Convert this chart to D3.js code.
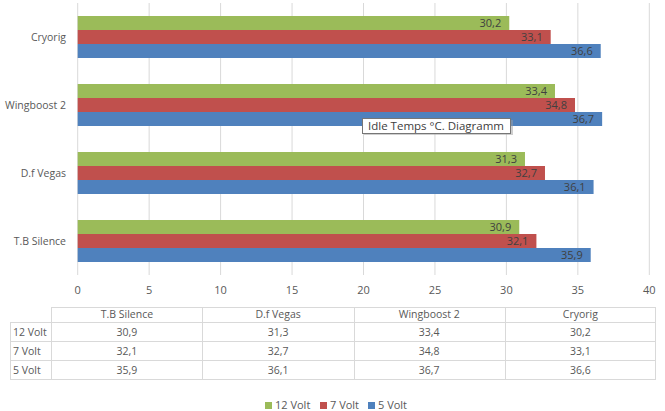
<!DOCTYPE html>
<html>
<head>
<meta charset="utf-8">
<script src="https://cdn.jsdelivr.net/npm/d3@7"></script>
<style>
  body { margin: 0; background: #fff; }
  text { font-family: "Open Sans", "Noto Sans", sans-serif; }
</style>
</head>
<body>
<div id="chart"></div>
<script>
// chart values
var categories = ['T.B Silence', 'D.f Vegas', 'Wingboost 2', 'Cryorig']
var seriesNames = ['12 Volt', '7 Volt', '5 Volt']
var volt12 = [30.9, 31.3, 33.4, 30.2]
var volt7 = [32.1, 32.7, 34.8, 33.1]
var volt5 = [35.9, 36.1, 36.7, 36.6]
var xTicks = [0, 5, 10, 15, 20, 25, 30, 35, 40]
var tooltipText = 'Idle Temps °C. Diagramm'

var colors = ['#9BBB59', '#C0504D', '#4F81BD']
var series = [volt12, volt7, volt5]
var fmt = function(v) { return String(v).replace('.', ',') }

var width = 665, height = 411
var svg = d3.select('#chart').append('svg')
  .attr('width', width)
  .attr('height', height)

var x = d3.scaleLinear().domain([0, 40]).range([77.7, 649.3])

// top of chart = last category
var y = d3.scaleBand()
  .domain(categories.slice().reverse())
  .range([3, 275])
  .paddingInner(26 / 68)
  .paddingOuter(13 / 68)

var y1 = d3.scaleBand().domain(seriesNames).range([0, y.bandwidth()])

// gridlines
svg.append('g').selectAll('line')
  .data(xTicks)
  .enter().append('line')
  .attr('x1', d => x(d)).attr('x2', d => x(d))
  .attr('y1', 3).attr('y2', 275)
  .attr('stroke', '#D9D9D9')
  .attr('stroke-width', 1)

// x tick labels
svg.append('g').selectAll('text')
  .data(xTicks)
  .enter().append('text')
  .attr('x', d => x(d))
  .attr('y', 294)
  .attr('text-anchor', 'middle')
  .attr('font-size', 11)
  .attr('fill', '#595959')
  .text(d => d)

// category labels
svg.append('g').selectAll('text')
  .data(categories)
  .enter().append('text')
  .attr('x', 66)
  .attr('y', d => y(d) + y.bandwidth() / 2 + 4)
  .attr('text-anchor', 'end')
  .attr('font-size', 10.5)
  .attr('fill', '#595959')
  .text(d => d)

// bars
series.forEach(function(vals, si) {
  var g = svg.append('g')
  g.selectAll('rect')
    .data(vals)
    .enter().append('rect')
    .attr('x', x(0))
    .attr('y', (d, i) => y(categories[i]) + y1(seriesNames[si]))
    .attr('width', d => x(d) - x(0))
    .attr('height', y1.bandwidth())
    .attr('fill', colors[si])

  g.selectAll('text')
    .data(vals)
    .enter().append('text')
    .attr('x', d => x(d) - 8)
    .attr('y', (d, i) => y(categories[i]) + y1(seriesNames[si]) + y1.bandwidth() / 2 + 4)
    .attr('text-anchor', 'end')
    .attr('font-size', 11)
    .attr('fill', '#404040')
    .text(d => fmt(d))
})

// data table
var tbl = svg.append('g')
var colX = d3.scaleBand().domain(categories).range([51.3, 656])
var rowTops = [307, 322, 341, 360, 379]
var lineCol = '#D9D9D9'

// header row
tbl.append('line').attr('x1', 51.3).attr('x2', 656).attr('y1', rowTops[0] + 0.5).attr('y2', rowTops[0] + 0.5).attr('stroke', lineCol)
rowTops.slice(1).forEach(function(t) {
  tbl.append('line').attr('x1', 10).attr('x2', 656).attr('y1', t + 0.5).attr('y2', t + 0.5).attr('stroke', lineCol)
})
tbl.append('line').attr('x1', 10.5).attr('x2', 10.5).attr('y1', rowTops[1]).attr('y2', rowTops[4]).attr('stroke', lineCol)
categories.forEach(function(c) {
  var cx = Math.round(colX(c)) + 0.5
  tbl.append('line').attr('x1', cx).attr('x2', cx).attr('y1', rowTops[0]).attr('y2', rowTops[4]).attr('stroke', lineCol)
})
tbl.append('line').attr('x1', 655.5).attr('x2', 655.5).attr('y1', rowTops[0]).attr('y2', rowTops[4]).attr('stroke', lineCol)

tbl.selectAll('text.head')
  .data(categories)
  .enter().append('text')
  .attr('x', d => colX(d) + colX.bandwidth() / 2)
  .attr('y', rowTops[0] + 11)
  .attr('text-anchor', 'middle')
  .attr('font-size', 10.5)
  .attr('fill', '#595959')
  .text(d => d)

series.forEach(function(vals, si) {
  var ty = rowTops[si + 1] + 13.5
  tbl.append('text')
    .attr('x', 13)
    .attr('y', ty)
    .attr('font-size', 10.5)
    .attr('fill', '#595959')
    .text(seriesNames[si])
  tbl.selectAll('text.v' + si)
    .data(vals)
    .enter().append('text')
    .attr('x', (d, i) => colX(categories[i]) + colX.bandwidth() / 2)
    .attr('y', ty)
    .attr('text-anchor', 'middle')
    .attr('font-size', 10.5)
    .attr('fill', '#595959')
    .text(d => fmt(d))
})

// legend
var legendX = [265, 320, 368]
var leg = svg.append('g')
seriesNames.forEach(function(n, i) {
  leg.append('rect')
    .attr('x', legendX[i]).attr('y', 402)
    .attr('width', 7).attr('height', 7)
    .attr('fill', colors[i])
  leg.append('text')
    .attr('x', legendX[i] + 10)
    .attr('y', 409)
    .attr('font-size', 11)
    .attr('fill', '#595959')
    .text(n)
})

// tooltip box
var tip = svg.append('g')
tip.append('rect')
  .attr('x', 364).attr('y', 120)
  .attr('width', 149).attr('height', 15)
  .attr('fill', '#A0A0A0').attr('opacity', 0.5)
tip.append('rect')
  .attr('x', 362.5).attr('y', 118.5)
  .attr('width', 148).attr('height', 15)
  .attr('fill', '#fff')
  .attr('stroke', '#767676')
tip.append('text')
  .attr('x', 368)
  .attr('y', 130)
  .attr('font-size', 11.5)
  .attr('fill', '#404040')
  .text(tooltipText)
</script>
</body>
</html>
